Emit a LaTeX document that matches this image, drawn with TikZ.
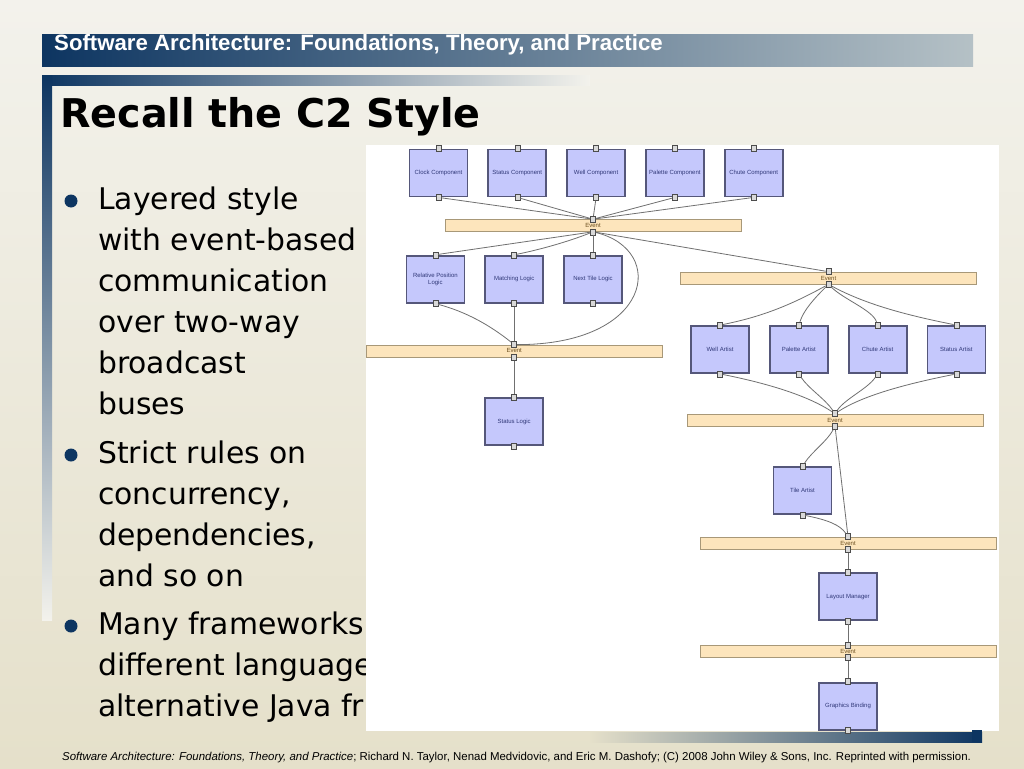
\documentclass[tikz,border=0pt]{standalone}
\usepackage{fontspec}
\setmainfont{DejaVu Sans}
\newfontfamily\arialfont{Liberation Sans}
\usetikzlibrary{positioning}
\definecolor{navy}{HTML}{0D3561}
\definecolor{headright}{HTML}{B5C1C6}
\definecolor{bgtop}{HTML}{F3F2EC}
\definecolor{bgbot}{HTML}{E5E0CA}
\definecolor{boxfill}{HTML}{C5C8FC}
\definecolor{boxborder}{HTML}{55577A}
\definecolor{boxtext}{HTML}{303878}
\definecolor{busfill}{HTML}{FDE5BC}
\definecolor{busborder}{HTML}{A89878}
\definecolor{bustext}{HTML}{6B4E1E}
\definecolor{wiregray}{HTML}{707070}

\begin{document}
\begin{tikzpicture}[x=1pt, y=-1pt, comp/.style={draw=boxborder, fill=boxfill, line width=1.8pt, minimum width=58pt, minimum height=47pt, inner sep=1pt, align=center, text=boxtext, font=\arialfont\fontsize{6}{7}\selectfont}, bus/.style={draw=busborder, fill=busfill, line width=0.6pt, minimum width=296pt, minimum height=12pt, inner sep=0pt, text=bustext, font=\arialfont\fontsize{6}{7}\selectfont}, port/.style={draw=black!70, fill=black!15, line width=0.6pt, minimum width=5pt, minimum height=6pt, inner sep=0pt}, wire/.style={draw=wiregray, line width=0.8pt}, dot/.style={circle, fill=navy, minimum size=13pt, inner sep=0pt}, bullet/.style={anchor=north west, inner sep=0pt, align=left, font=\fontsize{29.8}{41}\selectfont}]

    %Slide
    \useasboundingbox (0,0) rectangle (1024,768);
    \shade[top color=bgtop, bottom color=bgbot] (0,0) rectangle (1024,768);
    \shade[left color=navy, right color=headright] (42,35) rectangle (973,66);
    \shade[left color=navy, right color=bgtop] (42,75) rectangle (590,85);
    \shade[top color=navy, bottom color=bgtop] (42,75) rectangle (52,620);
    \node[anchor=base west, inner sep=0pt, text=white, font=\arialfont\bfseries\fontsize{22.2}{25}\selectfont] (header) at (54,51) {Software Architecture: Foundations, Theory, and Practice};
    \node[anchor=base west, inner sep=0pt, font=\bfseries\fontsize{39.6}{45}\selectfont] (title) at (60,127) {Recall the C2 Style};
    
    %Bullets
    \node[dot] (dot_a) at (71,201) {};
    \node[bullet] (text_a) at (98,180.3) {\strut Layered style\\with event-based\\communication\\over two-way\\broadcast\\buses};
    \node[dot] (dot_b) at (71,455) {};
    \node[bullet] (text_b) at (98,434.3) {\strut Strict rules on\\concurrency,\\dependencies,\\and so on};
    \node[dot] (dot_c) at (71,626) {};
    \node[bullet] (text_c) at (98,605.3) {\strut Many frameworks\\different language\\alternative Java fr};
    
    \fill[white] (366,145) rectangle (999,731);
    \shade[left color=bgbot, right color=navy] (590,732) rectangle (982,742);
    \fill[navy] (972,730) rectangle (982,742);
    \node[anchor=base west, inner sep=0pt, font=\arialfont\fontsize{11.45}{13}\selectfont] (footer) at (62,760) {\textit{Software Architecture: Foundations, Theory, and Practice}; Richard N. Taylor, Nenad Medvidovic, and Eric M. Dashofy; (C) 2008 John Wiley \& Sons, Inc. Reprinted with permission.};
    
    %Nodes
    \node[comp] (clock_comp) at (438.5,173) {Clock Component};
    \node[comp] (status_comp) [right=19pt of clock_comp] {Status Component};
    \node[comp] (well_comp) [right=19pt of status_comp] {Well Component};
    \node[comp] (palette_comp) [right=19pt of well_comp] {Palette Component};
    \node[comp] (chute_comp) [right=19pt of palette_comp] {Chute Component};
    \node[bus] (event_a) at (593,225.5) {Event};
    
    \node[comp] (next_tile) [below=23pt of event_a] {Next Tile Logic};
    \node[comp] (matching) [left=19pt of next_tile] {Matching Logic};
    \node[comp] (rel_pos) [left=19pt of matching] {Relative Position\\Logic};
    \node[bus] (event_b) [below=41pt of matching] {Event};
    \node[comp] (status_logic) [below=40pt of event_b] {Status Logic};
    
    \node[bus] (event_c) at (828.5,278) {Event};
    \node[comp] (well_artist) at (720,349.5) {Well Artist};
    \node[comp] (palette_artist) [right=19pt of well_artist] {Palette Artist};
    \node[comp] (chute_artist) [right=19pt of palette_artist] {Chute Artist};
    \node[comp] (status_artist) [right=19pt of chute_artist] {Status Artist};
    \node[bus] (event_d) at (835,420) {Event};
    \node[comp] (tile_artist) at (802.5,490.5) {Tile Artist};
    \node[bus] (event_e) at (848,543) {Event};
    \node[comp] (layout_mgr) [below=23pt of event_e] {Layout Manager};
    \node[bus] (event_f) [below=24pt of layout_mgr] {Event};
    \node[comp] (graphics) [below=24pt of event_f] {Graphics Binding};
    
    %Ports
    \foreach \nd in {clock_comp,status_comp,well_comp,palette_comp,chute_comp,event_a,%
      rel_pos,matching,next_tile,event_b,status_logic,event_c,well_artist,palette_artist,%
      chute_artist,status_artist,event_d,tile_artist,event_e,layout_mgr,event_f,graphics}{
      \node[port] (\nd_in) at (\nd.north) {};
      \node[port] (\nd_out) at (\nd.south) {};
    }
    
    %Lines
    \draw[wire] (clock_comp_out) -- (event_a_in);
    \draw[wire] (status_comp_out) -- (event_a_in);
    \draw[wire] (well_comp_out) -- (event_a_in);
    \draw[wire] (palette_comp_out) -- (event_a_in);
    \draw[wire] (chute_comp_out) -- (event_a_in);
    \draw[wire] (event_a_out) -- (rel_pos_in);
    \draw[wire] (event_a_out) .. controls +(-25,10) and +(25,-5) .. (matching_in);
    \draw[wire] (event_a_out) -- (next_tile_in);
    \draw[wire] (event_a_out) .. controls (668,250) and (652,345) .. (event_b_in);
    \draw[wire] (event_a_out) -- (event_c_in);
    \draw[wire] (rel_pos_out) .. controls +(30,8) and +(-25,-20) .. (event_b_in);
    \draw[wire] (matching_out) -- (event_b_in);
    \draw[wire] (event_b_out) -- (status_logic_in);
    \draw[wire] (event_c_out) .. controls +(-40,22) and +(40,-8) .. (well_artist_in);
    \draw[wire] (event_c_out) .. controls +(-15,15) and +(5,-15) .. (palette_artist_in);
    \draw[wire] (event_c_out) .. controls +(15,15) and +(-5,-15) .. (chute_artist_in);
    \draw[wire] (event_c_out) .. controls +(40,22) and +(-40,-8) .. (status_artist_in);
    \draw[wire] (well_artist_out) .. controls +(40,8) and +(-30,-20) .. (event_d_in);
    \draw[wire] (palette_artist_out) .. controls +(10,15) and +(-10,-15) .. (event_d_in);
    \draw[wire] (chute_artist_out) .. controls +(-10,15) and +(10,-15) .. (event_d_in);
    \draw[wire] (status_artist_out) .. controls +(-40,8) and +(30,-20) .. (event_d_in);
    \draw[wire] (event_d_out) .. controls +(-8,15) and +(10,-15) .. (tile_artist_in);
    \draw[wire] (event_d_out) -- (event_e_in);
    \draw[wire] (tile_artist_out) .. controls +(25,5) and +(-8,-12) .. (event_e_in);
    \draw[wire] (event_e_out) -- (layout_mgr_in);
    \draw[wire] (layout_mgr_out) -- (event_f_in);
    \draw[wire] (event_f_out) -- (graphics_in);
    
\end{tikzpicture}
\end{document}
